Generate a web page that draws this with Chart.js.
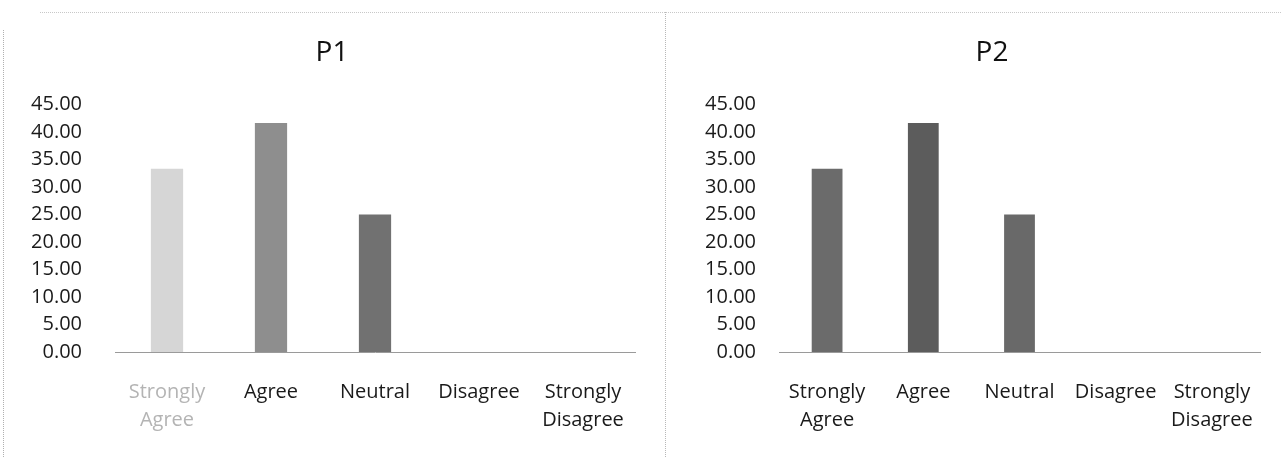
<!DOCTYPE html>
<html>
<head>
<meta charset="utf-8">
<script src="https://cdn.jsdelivr.net/npm/chart.js@4.4.0/dist/chart.umd.min.js"></script>
<style>
    body { margin: 0; background: #fff; width: 1281px; height: 457px; overflow: hidden; position: relative; }
    .panel { position: absolute; top: 0; height: 457px; }
    #panel1 { left: 0; width: 664px; }
    #panel2 { left: 666px; width: 615px; }
    .frame-top { position: absolute; left: 40px; top: 12px; width: 1241px; border-top: 1px dotted #c8c8c8; }
    .frame-left { position: absolute; left: 3px; top: 30px; height: 427px; border-left: 1px dotted #b0b0b0; }
    .frame-mid { position: absolute; left: 665px; top: 12px; height: 445px; border-left: 1px dotted #b8b8b8; }
</style>
</head>
<body>
<div class="frame-top"></div>
<div class="frame-left"></div>
<div class="frame-mid"></div>
<div class="panel" id="panel1"><canvas id="chart-p1"></canvas></div>
<div class="panel" id="panel2"><canvas id="chart-p2"></canvas></div>
<script>
const categories = [['Strongly', 'Agree'], 'Agree', 'Neutral', 'Disagree', ['Strongly', 'Disagree']];
const p1Values = [33.33, 41.67, 25.00, 0, 0];
const p2Values = [33.33, 41.67, 25.00, 0, 0];
const yMin = 0;
const yMax = 45;
const yStep = 5;

const fontFamily = "'Open Sans', 'Noto Sans', sans-serif";

// build one panel, sizes in px relative to its own canvas
const makeChart = (id, title, values, colors, opts) => {
    return new Chart(document.getElementById(id).getContext('2d'), {
        type: 'bar',
        data: {
            labels: categories,
            datasets: [{
                data: values,
                backgroundColor: colors,
                borderWidth: 0,
                barPercentage: opts.barPct,
                categoryPercentage: 1
            }]
        },
        options: {
            responsive: true,
            maintainAspectRatio: false,
            animation: false,
            layout: { padding: { left: opts.padLeft, right: 0, top: 0, bottom: 0 } },
            plugins: {
                legend: { display: false },
                tooltip: { enabled: false },
                title: {
                    display: true,
                    text: title,
                    color: '#111',
                    font: { family: fontFamily, size: 28, weight: 'normal' },
                    padding: { top: 36, bottom: 35 }
                }
            },
            scales: {
                x: {
                    grid: { display: false, drawTicks: false },
                    border: { display: true, color: '#9a9a9a', width: 1, dash: [2, 2] },
                    ticks: {
                        color: ctx => (opts.labelColors[ctx.index] || '#1a1a1a'),
                        font: { family: fontFamily, size: 20, lineHeight: 1.4 },
                        padding: 26,
                        maxRotation: 0,
                        autoSkip: false
                    },
                    afterFit: scale => { scale.height = 105; }
                },
                y: {
                    min: yMin,
                    max: yMax,
                    grid: { display: false, drawTicks: false },
                    border: { display: false },
                    ticks: {
                        stepSize: yStep,
                        color: '#1a1a1a',
                        font: { family: fontFamily, size: 20 },
                        padding: opts.tickPad,
                        callback: v => v.toFixed(2)
                    },
                    afterFit: scale => { scale.width = opts.axisWidth; }
                },
                // empty right axis, only keeps a gap on the right without moving the title
                gap: {
                    type: 'linear',
                    position: 'right',
                    display: true,
                    grid: { display: false, drawTicks: false },
                    border: { display: false },
                    ticks: { display: false },
                    afterFit: scale => { scale.width = opts.padRight; }
                }
            }
        }
    });
};

window.chartP1 = makeChart('chart-p1', 'P1', p1Values,
    ['#d6d6d6', '#8e8e8e', '#717171', '#717171', '#717171'],
    { barPct: 0.31, padLeft: 0, padRight: 29, tickPad: 33, axisWidth: 115, labelColors: ['#b4b4b4'] });

window.chartP2 = makeChart('chart-p2', 'P2', p2Values,
    ['#6b6b6b', '#5c5c5c', '#696969', '#696969', '#696969'],
    { barPct: 0.32, padLeft: 37, padRight: 21, tickPad: 23, axisWidth: 76, labelColors: [] });
</script>
</body>
</html>
